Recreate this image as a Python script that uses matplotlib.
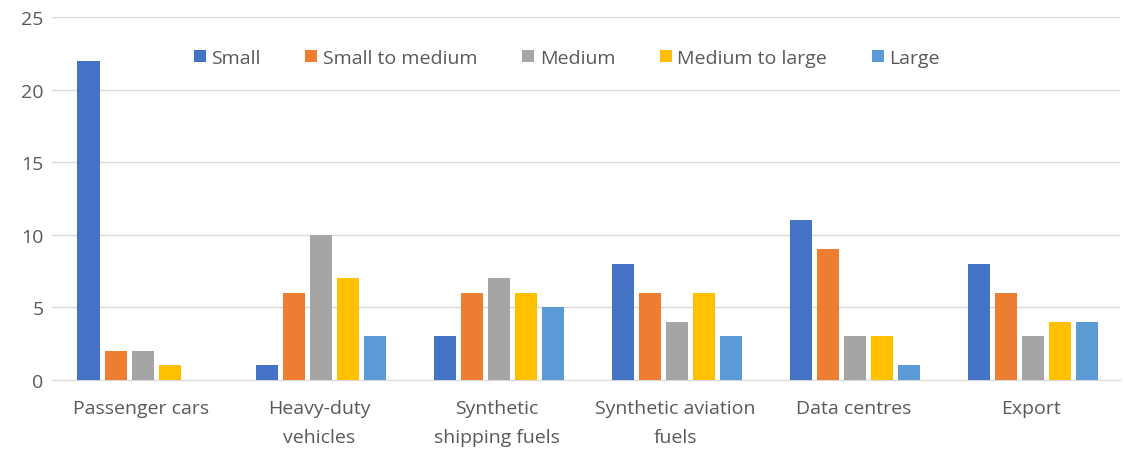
import numpy as np
import matplotlib.pyplot as plt

categories = ["Passenger cars", "Heavy-duty\nvehicles", "Synthetic\nshipping fuels",
              "Synthetic aviation\nfuels", "Data centres", "Export"]
series_names = ["Small", "Small to medium", "Medium", "Medium to large", "Large"]
small = [22, 1, 3, 8, 11, 8]
small_to_medium = [2, 6, 6, 6, 9, 6]
medium = [2, 10, 7, 4, 3, 3]
medium_to_large = [1, 7, 6, 6, 3, 4]
large = [0, 3, 5, 3, 1, 4]

colors = ["#4472C4", "#ED7D31", "#A5A5A5", "#FFC000", "#5B9BD5"]
text_col = "#595959"

plt.rcParams["font.family"] = ["Open Sans", "DejaVu Sans"]

fig = plt.figure(figsize=(11.26, 4.56), dpi=100)
ax = fig.add_axes([0.046, 0.1645, 0.949, 0.796])

x = np.arange(len(categories))
step = 0.152
width = 0.124
for i, (name, vals) in enumerate(zip(series_names,
                                     [small, small_to_medium, medium, medium_to_large, large])):
    ax.bar(x + (i - 2) * step + 0.01, vals, width, color=colors[i], label=name, zorder=3)

ax.set_xlim(-0.5, len(categories) - 0.5)
ax.set_ylim(0, 25)
ax.set_yticks(range(0, 26, 5))
ax.yaxis.grid(True, color="#D9D9D9", linewidth=1, zorder=0)
for s in ["top", "right", "left"]:
    ax.spines[s].set_visible(False)
ax.spines["bottom"].set_color("#D9D9D9")
ax.tick_params(axis="both", length=0, colors=text_col, labelsize=14)
ax.tick_params(axis="y", pad=6)
ax.tick_params(axis="x", pad=14)
ax.set_xticks(x)
ax.set_xticklabels(categories, linespacing=1.75)

ax.legend(loc="upper center", bbox_to_anchor=(0.482, 0.96), ncol=5, frameon=False,
          fontsize=14, labelcolor=text_col, handlelength=0.6, handleheight=0.6,
          handletextpad=0.3, columnspacing=2.3)

fig.savefig("out.png", dpi=100, facecolor="white")
